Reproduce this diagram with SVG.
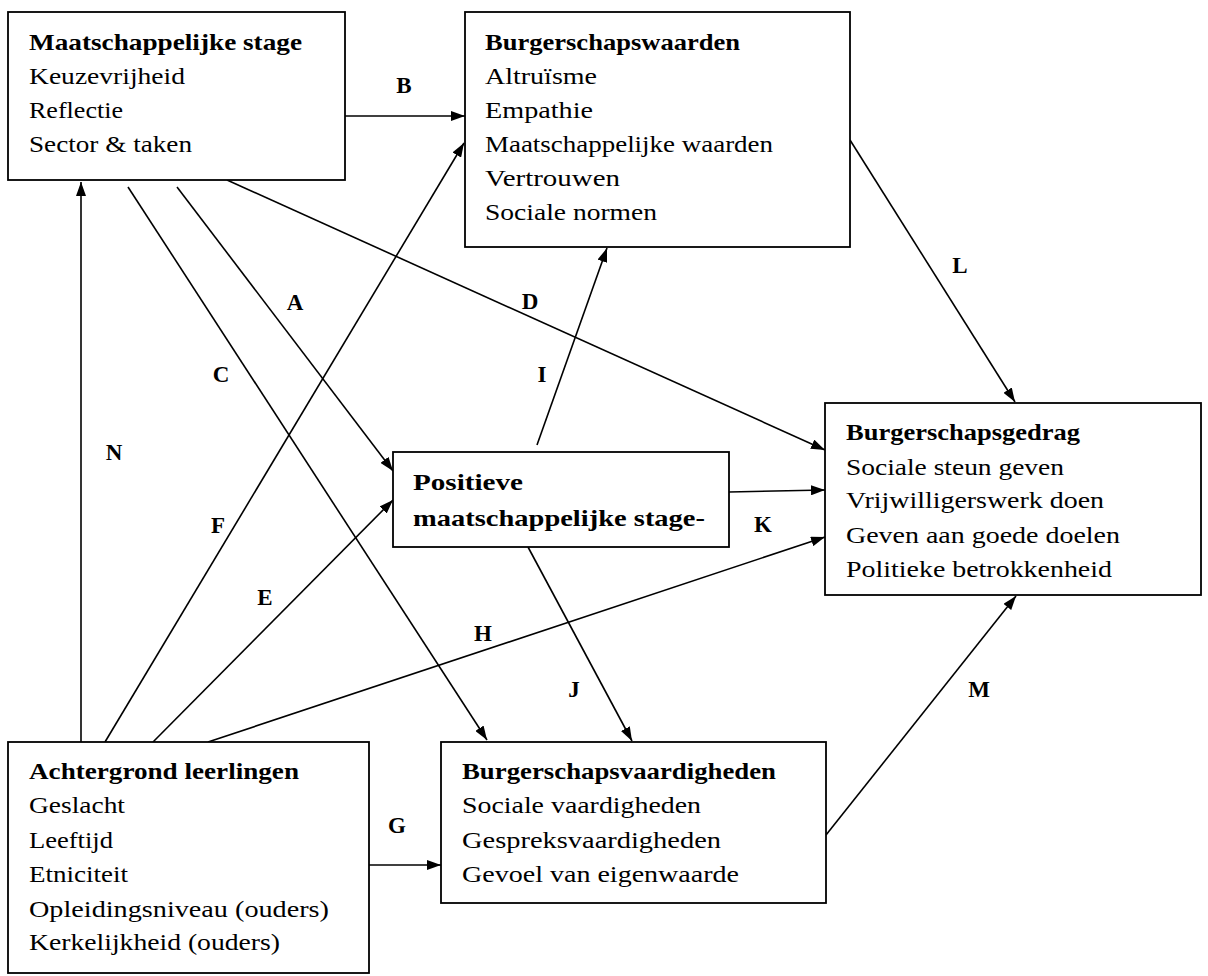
<svg xmlns="http://www.w3.org/2000/svg" width="1208" height="976" viewBox="0 0 1208 976">
<style>
.box{fill:#fff;stroke:#000;stroke-width:1.8}
.t{font-family:"Liberation Serif",serif;font-size:23px;fill:#000}
.b{font-weight:bold}
.lbl{font-family:"Liberation Serif",serif;font-size:23px;font-weight:bold;fill:#000;text-anchor:middle}
.c{stroke:#000;stroke-width:1.6;fill:none;marker-end:url(#ah)}
</style>
<defs>
<marker id="ah" viewBox="0 0 14 10" refX="14" refY="5" markerWidth="14" markerHeight="10" markerUnits="userSpaceOnUse" orient="auto">
<path d="M0,0 L14,5 L0,10 z" fill="#000"/>
</marker>
</defs>
<rect width="1208" height="976" fill="#fff"/>
<g id="connectors">
<line class="c" x1="81" y1="742" x2="81" y2="182"/>
<line class="c" x1="345" y1="116" x2="465" y2="116"/>
<line class="c" x1="177" y1="187" x2="393" y2="471"/>
<line class="c" x1="128" y1="187" x2="487" y2="740"/>
<line class="c" x1="227" y1="180" x2="825" y2="450"/>
<line class="c" x1="105" y1="742" x2="464" y2="143"/>
<line class="c" x1="153" y1="742" x2="393" y2="500"/>
<line class="c" x1="208" y1="742" x2="825" y2="537"/>
<line class="c" x1="369" y1="865" x2="441" y2="865"/>
<line class="c" x1="537" y1="445" x2="607" y2="248"/>
<line class="c" x1="729" y1="492" x2="825" y2="490"/>
<line class="c" x1="528" y1="547" x2="632" y2="741"/>
<line class="c" x1="850" y1="140" x2="1015" y2="402"/>
<line class="c" x1="826" y1="835" x2="1016" y2="596"/>
<g id="labels">
<text class="lbl" x="295" y="310">A</text>
<text class="lbl" x="404" y="93">B</text>
<text class="lbl" x="221" y="382">C</text>
<text class="lbl" x="530" y="309">D</text>
<text class="lbl" x="265" y="605">E</text>
<text class="lbl" x="218" y="533">F</text>
<text class="lbl" x="397" y="833">G</text>
<text class="lbl" x="483" y="641">H</text>
<text class="lbl" x="542" y="382">I</text>
<text class="lbl" x="574" y="697">J</text>
<text class="lbl" x="763" y="532">K</text>
<text class="lbl" x="960" y="273">L</text>
<text class="lbl" x="979" y="697">M</text>
<text class="lbl" x="114" y="460">N</text>
</g>
</g>
<g id="maatschappelijke-stage">
<rect class="box" x="8" y="12" width="337" height="168"/>
<text class="t b" x="29" y="50" textLength="273" lengthAdjust="spacingAndGlyphs">Maatschappelijke stage</text>
<text class="t" x="29" y="84" textLength="156" lengthAdjust="spacingAndGlyphs">Keuzevrijheid</text>
<text class="t" x="29" y="118" textLength="94" lengthAdjust="spacingAndGlyphs">Reflectie</text>
<text class="t" x="29" y="152" textLength="163" lengthAdjust="spacingAndGlyphs">Sector &amp; taken</text>
</g>
<g id="burgerschapswaarden">
<rect class="box" x="465" y="12" width="385" height="235"/>
<text class="t b" x="485" y="50" textLength="255" lengthAdjust="spacingAndGlyphs">Burgerschapswaarden</text>
<text class="t" x="485" y="84" textLength="112" lengthAdjust="spacingAndGlyphs">Altruïsme</text>
<text class="t" x="485" y="118" textLength="108" lengthAdjust="spacingAndGlyphs">Empathie</text>
<text class="t" x="485" y="152" textLength="288" lengthAdjust="spacingAndGlyphs">Maatschappelijke waarden</text>
<text class="t" x="485" y="186" textLength="135" lengthAdjust="spacingAndGlyphs">Vertrouwen</text>
<text class="t" x="485" y="220" textLength="172" lengthAdjust="spacingAndGlyphs">Sociale normen</text>
</g>
<g id="burgerschapsgedrag">
<rect class="box" x="825" y="403" width="376" height="192"/>
<text class="t b" x="846" y="440" textLength="234" lengthAdjust="spacingAndGlyphs">Burgerschapsgedrag</text>
<text class="t" x="846" y="475" textLength="218" lengthAdjust="spacingAndGlyphs">Sociale steun geven</text>
<text class="t" x="846" y="508" textLength="258" lengthAdjust="spacingAndGlyphs">Vrijwilligerswerk doen</text>
<text class="t" x="846" y="543" textLength="274" lengthAdjust="spacingAndGlyphs">Geven aan goede doelen</text>
<text class="t" x="846" y="577" textLength="266" lengthAdjust="spacingAndGlyphs">Politieke betrokkenheid</text>
</g>
<g id="positieve-stage">
<rect class="box" x="393" y="452" width="336" height="95"/>
<text class="t b" x="413" y="490" textLength="110" lengthAdjust="spacingAndGlyphs">Positieve</text>
<text class="t b" x="413" y="526" textLength="292" lengthAdjust="spacingAndGlyphs">maatschappelijke stage-</text>
</g>
<g id="achtergrond-leerlingen">
<rect class="box" x="8" y="742" width="361" height="231"/>
<text class="t b" x="29" y="779" textLength="270" lengthAdjust="spacingAndGlyphs">Achtergrond leerlingen</text>
<text class="t" x="29" y="813" textLength="96" lengthAdjust="spacingAndGlyphs">Geslacht</text>
<text class="t" x="29" y="848" textLength="84" lengthAdjust="spacingAndGlyphs">Leeftijd</text>
<text class="t" x="29" y="882" textLength="99" lengthAdjust="spacingAndGlyphs">Etniciteit</text>
<text class="t" x="29" y="917" textLength="300" lengthAdjust="spacingAndGlyphs">Opleidingsniveau (ouders)</text>
<text class="t" x="29" y="950" textLength="251" lengthAdjust="spacingAndGlyphs">Kerkelijkheid (ouders)</text>
</g>
<g id="burgerschapsvaardigheden">
<rect class="box" x="441" y="742" width="385" height="161"/>
<text class="t b" x="462" y="779" textLength="314" lengthAdjust="spacingAndGlyphs">Burgerschapsvaardigheden</text>
<text class="t" x="462" y="813" textLength="239" lengthAdjust="spacingAndGlyphs">Sociale vaardigheden</text>
<text class="t" x="462" y="848" textLength="259" lengthAdjust="spacingAndGlyphs">Gespreksvaardigheden</text>
<text class="t" x="462" y="882" textLength="277" lengthAdjust="spacingAndGlyphs">Gevoel van eigenwaarde</text>
</g>
</svg>
